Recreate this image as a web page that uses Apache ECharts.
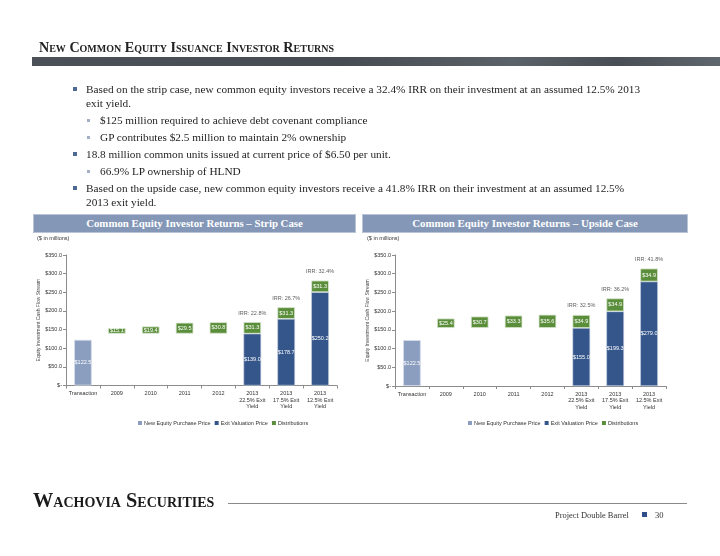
<!DOCTYPE html>
<html><head><meta charset="utf-8">
<script src="https://cdn.jsdelivr.net/npm/echarts/dist/echarts.min.js"></script>
<style>
html,body{margin:0;padding:0;}
body{width:720px;height:556px;position:relative;background:#fff;overflow:hidden;font-family:'Liberation Serif',serif;color:#1e1e1e;}
#chart{position:absolute;left:0;top:0;width:720px;height:556px;}
.t{position:absolute;white-space:nowrap;}
.hdr{position:absolute;top:214px;height:19px;background:#8497b7;border:1px solid #b9c4d6;box-sizing:border-box;display:flex;align-items:center;justify-content:center;}
.hdr span{color:#fff;font-weight:bold;font-size:12px;white-space:nowrap;line-height:19px;}
.bul{position:absolute;width:4px;height:4px;background:#4f6a92;}
.sbul{position:absolute;width:3px;height:3px;background:#a3afc4;}
.mil{position:absolute;font-family:'Liberation Sans',Arial,sans-serif;font-size:5.5px;color:#333;line-height:6px;}
</style></head>
<body>
<div id="chart"></div>
<div class="t" id="title" style="left:39px;top:39px;line-height:16px;font-weight:bold;font-variant:small-caps;font-size:14px;color:#222;">New Common Equity Issuance Investor Returns</div>
<div style="position:absolute;left:32px;top:57px;width:688px;height:9px;background:linear-gradient(to right,#4c5157 0%,#474c52 45%,#5b6168 70%,#494e55 85%,#60666d 100%);"></div>

<div class="bul" style="left:73px;top:87px;"></div>
<div class="t bl" style="left:86px;top:82px;">Based on the strip case, new common equity investors receive a 32.4% IRR on their investment at an assumed 12.5% 2013</div>
<div class="t bl" style="left:86px;top:96px;">exit yield.</div>
<div class="sbul" style="left:87px;top:119px;"></div>
<div class="t bl" style="left:100px;top:113px;">$125 million required to achieve debt covenant compliance</div>
<div class="sbul" style="left:87px;top:136px;"></div>
<div class="t bl" style="left:100px;top:130px;">GP contributes $2.5 million to maintain 2% ownership</div>
<div class="bul" style="left:73px;top:152px;"></div>
<div class="t bl" style="left:86px;top:147px;">18.8 million common units issued at current price of $6.50 per unit.</div>
<div class="sbul" style="left:87px;top:170px;"></div>
<div class="t bl" style="left:100px;top:164px;">66.9% LP ownership of HLND</div>
<div class="bul" style="left:73px;top:186px;"></div>
<div class="t bl" style="left:86px;top:181px;">Based on the upside case, new common equity investors receive a 41.8% IRR on their investment at an assumed 12.5%</div>
<div class="t bl" style="left:86px;top:195px;">2013 exit yield.</div>

<div class="hdr" style="left:33px;width:323px;"><span id="h1">Common Equity Investor Returns – Strip Case</span></div>
<div class="hdr" style="left:362px;width:326px;"><span id="h2">Common Equity Investor Returns – Upside Case</span></div>
<div class="mil" style="left:37px;top:235px;">($ in millions)</div>
<div class="mil" style="left:367px;top:235px;">($ in millions)</div>

<div class="t" id="wach" style="left:33px;top:492px;line-height:16px;font-weight:bold;font-variant:small-caps;font-size:16px;color:#1a1a1a;">Wachovia Securities</div>
<div style="position:absolute;left:228px;top:503px;width:459px;height:1px;background:#8a8a8a;"></div>
<div class="t" id="proj" style="left:555px;top:509px;line-height:12px;font-size:9px;color:#333;">Project Double Barrel</div>
<div style="position:absolute;left:642px;top:512px;width:5px;height:5px;background:#2f4f8a;"></div>
<div class="t" style="left:655px;top:509px;line-height:12px;font-size:8.5px;color:#333;">30</div>

<script>
// ---------- data ----------
const categories = ['Transaction','2009','2010','2011','2012','2013\n22.5% Exit\nYield','2013\n17.5% Exit\nYield','2013\n12.5% Exit\nYield'];
const seriesNames = ['New Equity Purchase Price','Exit Valuation Price','Distributions'];
const yMax = 350, yInterval = 50;

const stripPurchase = [122.5, null, null, null, null, null, null, null];
const stripExit     = [null, null, null, null, null, 139.0, 178.7, 250.2];
const stripDist     = [null, 15.1, 19.4, 29.5, 30.8, 31.3, 31.3, 31.3];
const stripBase     = [null, 139.0, 139.0, 139.0, 139.0, null, null, null];
const stripIRR      = [null, null, null, null, null, '22.8%', '26.7%', '32.4%'];

const upPurchase = [122.5, null, null, null, null, null, null, null];
const upExit     = [null, null, null, null, null, 155.0, 199.3, 279.0];
const upDist     = [null, 25.4, 30.7, 33.3, 35.6, 34.9, 34.9, 34.9];
const upBase     = [null, 155.0, 155.0, 155.0, 155.0, null, null, null];
const upIRR      = [null, null, null, null, null, '32.5%', '36.2%', '41.8%'];

// ---------- text fitting ----------
function fitWidth(el, target){
  const w = el.getBoundingClientRect().width;
  const fs = parseFloat(getComputedStyle(el).fontSize);
  const nfs = fs * target / w;
  el.style.fontSize = nfs + 'px';
  return nfs;
}
fitWidth(document.getElementById('title'), 297);
const bl = document.querySelectorAll('.bl');
bl.forEach(e=>{e.style.fontSize='11px';e.style.lineHeight='14px';});
const bfs = fitWidth(bl[0], 555);
bl.forEach(e=>{e.style.fontSize=bfs+'px';});
fitWidth(document.getElementById('h1'), 217);
fitWidth(document.getElementById('h2'), 226);
fitWidth(document.getElementById('wach'), 181);
fitWidth(document.getElementById('proj'), 74);

// ---------- chart ----------
const C_PUR = '#8b9ec0', C_EXIT = '#34568b', C_DIST = '#5b8e3b';
const FONT = 'Liberation Sans';
const money = v => '$' + Number(v).toFixed(1);

function build(idx, purchase, exitV, dist, base, irr){
  const lbl = {show:true, position:'inside', color:'#fff', fontSize:5.5, fontFamily:FONT, formatter:p=>money(p.value)};
  const common = {type:'bar', stack:'s'+idx, xAxisIndex:idx, yAxisIndex:idx, barWidth:'52%'};
  const totals = categories.map((c,i)=> irr[i] ? (exitV[i]||0) + (dist[i]||0) : null);
  return [
    Object.assign({}, common, {name:'base'+idx, data:base, itemStyle:{color:'transparent'}, silent:true, label:{show:false}}),
    Object.assign({}, common, {name:seriesNames[0], data:purchase, itemStyle:{color:C_PUR, borderColor:'#d5dceb', borderWidth:0.8}, label:lbl}),
    Object.assign({}, common, {name:seriesNames[1], data:exitV, itemStyle:{color:C_EXIT, borderColor:'#c5cfe0', borderWidth:0.6}, label:lbl}),
    Object.assign({}, common, {name:seriesNames[2], data:dist, itemStyle:{color:C_DIST, borderColor:'#dbe7d2', borderWidth:0.8}, label:lbl}),
    {type:'scatter', xAxisIndex:idx, yAxisIndex:idx, symbolSize:0, silent:true,
     data: totals.map((v,i)=> v==null ? null : [i, v]).filter(d=>d),
     label:{show:true, position:'top', distance:6, color:'#333', fontSize:5.5, fontFamily:FONT,
       formatter:p=>'IRR: ' + irr[p.value[0]]}}
  ];
}

function xAx(idx){
  return {type:'category', gridIndex:idx, data:categories,
    axisLine:{lineStyle:{color:'#8c8c8c', width:1}},
    axisTick:{show:true, length:3, lineStyle:{color:'#8c8c8c'}},
    axisLabel:{interval:0, fontSize:5.5, fontFamily:FONT, color:'#333', lineHeight:6.5, margin:5}};
}
function yAx(idx){
  return {type:'value', gridIndex:idx, min:0, max:yMax, interval:yInterval,
    name:'Equity Investment Cash Flow Stream', nameLocation:'middle', nameGap:24,
    nameTextStyle:{fontSize:5, fontFamily:FONT, color:'#444'},
    axisLine:{show:true, lineStyle:{color:'#8c8c8c', width:1}},
    axisTick:{show:true, length:3, lineStyle:{color:'#8c8c8c'}},
    splitLine:{show:false},
    axisLabel:{fontSize:5.5, fontFamily:FONT, color:'#333', margin:4,
      formatter:v=> v===0 ? '$-' : money(v)}};
}
function leg(left){
  return {left:left, top:415, data:seriesNames, icon:'rect', itemWidth:4, itemHeight:4, itemGap:4,
    itemStyle:{borderWidth:0},
    textStyle:{fontSize:5.5, fontFamily:FONT, color:'#333', padding:[0,0,0,-3]}, selectedMode:false};
}

const chart = echarts.init(document.getElementById('chart'), null, {renderer:'canvas'});
chart.setOption({
  animation:false,
  backgroundColor:'transparent',
  grid:[{left:66, top:255, width:271, height:130.5}, {left:395, top:255, width:271, height:131}],
  xAxis:[xAx(0), xAx(1)],
  yAxis:[yAx(0), yAx(1)],
  legend:[leg(133), leg(463)],
  series:[...build(0, stripPurchase, stripExit, stripDist, stripBase, stripIRR),
          ...build(1, upPurchase, upExit, upDist, upBase, upIRR)]
});
</script>
</body></html>
